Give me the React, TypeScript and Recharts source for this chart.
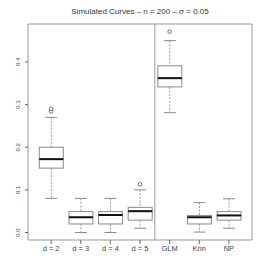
import { ComposedChart, Bar, Line, XAxis, YAxis, ReferenceLine, ReferenceArea } from "recharts";

const categories = ["d = 2", "d = 3", "d = 4", "d = 5", "GLM", "Knn", "NP"];
const mins = [0.08, 0.0, 0.0, 0.01, 0.281, 0.001, 0.01];
const q1s = [0.151, 0.02, 0.02, 0.029, 0.3415, 0.02, 0.029];
const medians = [0.172, 0.0357, 0.041, 0.05, 0.362, 0.0357, 0.04];
const q3s = [0.2, 0.049, 0.049, 0.059, 0.391, 0.04, 0.049];
const maxs = [0.27, 0.08, 0.08, 0.1, 0.45, 0.07, 0.079];
const outliersA = [0.284, null, null, 0.113, 0.471, null, null];
const outliersB = [0.29, null, null, null, null, null, null];
const yTicks = [0, 0.1, 0.2, 0.3, 0.4];
const xTicks = [1, 2, 3, 4, 5, 6, 7];

const Y_DOMAIN: [number, number] = [-0.0176, 0.489];
const X_DOMAIN: [number, number] = [0.22, 7.78];

const rows = categories.map((name, i) => ({
  name,
  pos: i + 1,
  base: mins[i],
  lw: q1s[i] - mins[i],
  lb: medians[i] - q1s[i],
  ub: q3s[i] - medians[i],
  uw: maxs[i] - q3s[i],
  outA: outliersA[i],
  outB: outliersB[i],
}));

const BOX = "#8a8a8a";
const WHISK = "#9a9a9a";
const FONT = "'Liberation Sans', Arial, sans-serif";

const Empty = () => <g />;

const LowerWhisker = (p: any) => {
  const cx = p.x + p.width / 2;
  return (
    <g>
      <line x1={cx} x2={cx} y1={p.y} y2={p.y + p.height} stroke={WHISK} strokeDasharray="2 1.5" />
      <line x1={cx - 6} x2={cx + 6} y1={p.y + p.height} y2={p.y + p.height} stroke={BOX} />
    </g>
  );
};

const UpperWhisker = (p: any) => {
  const cx = p.x + p.width / 2;
  return (
    <g>
      <line x1={cx} x2={cx} y1={p.y} y2={p.y + p.height} stroke={WHISK} strokeDasharray="2 1.5" />
      <line x1={cx - 6} x2={cx + 6} y1={p.y} y2={p.y} stroke={BOX} />
    </g>
  );
};

const LowerBox = (p: any) => (
  <rect x={p.x} y={p.y} width={p.width} height={p.height} fill="#fff" stroke={BOX} />
);

const UpperBox = (p: any) => (
  <g>
    <rect x={p.x} y={p.y} width={p.width} height={p.height} fill="#fff" stroke={BOX} />
    <line x1={p.x} x2={p.x + p.width} y1={p.y + p.height} y2={p.y + p.height} stroke="#111" strokeWidth={2} />
  </g>
);

const OutlierDot = (p: any) =>
  p.value == null ? (
    <g key={p.key} />
  ) : (
    <circle key={p.key} cx={p.cx} cy={p.cy} r={1.8} fill="#fff" stroke="#666" strokeWidth={0.9} />
  );

const YTick = (p: any) => (
  <text
    x={p.x}
    y={p.y}
    transform={`rotate(-90 ${p.x} ${p.y})`}
    textAnchor="middle"
    fontSize={6}
    fill="#444"
    fontFamily={FONT}
  >
    {Number(p.payload.value).toFixed(1)}
  </text>
);

export default function App() {
  return (
    <div style={{ position: "absolute", left: 0, top: 0, width: 266, height: 271, background: "#fff", fontFamily: FONT }}>
      <div
        style={{
          position: "absolute",
          left: 0,
          width: 280,
          top: 7,
          textAlign: "center",
          fontSize: 8,
          color: "#333",
          lineHeight: "10px",
        }}
      >
        Simulated Curves – n = 200 – σ = 0.05
      </div>
      <ComposedChart width={266} height={271} data={rows} margin={{ top: 24, right: 14, bottom: 0, left: 0 }}>
        <XAxis
          dataKey="pos"
          type="number"
          domain={X_DOMAIN}
          allowDataOverflow
          ticks={xTicks}
          tickFormatter={(v) => categories[v - 1]}
          tickSize={4}
          tickLine={{ stroke: "#666" }}
          axisLine={false}
          tick={{ fontSize: 7.5, fill: "#444", fontFamily: FONT }}
          height={31}
          interval={0}
        />
        <YAxis
          type="number"
          domain={Y_DOMAIN}
          allowDataOverflow
          ticks={yTicks}
          width={28}
          tickSize={3}
          tickMargin={4.5}
          tickLine={{ stroke: "#666" }}
          axisLine={false}
          tick={YTick}
        />
        <ReferenceArea
          x1={X_DOMAIN[0]}
          x2={X_DOMAIN[1]}
          y1={Y_DOMAIN[0]}
          y2={Y_DOMAIN[1]}
          fill="none"
          stroke="#999"
          ifOverflow="visible"
        />
        <ReferenceLine x={4.5} stroke="#999" ifOverflow="visible" />
        <Bar dataKey="base" stackId="b" barSize={24} shape={Empty} isAnimationActive={false} />
        <Bar dataKey="lw" stackId="b" barSize={24} shape={LowerWhisker} isAnimationActive={false} />
        <Bar dataKey="lb" stackId="b" barSize={24} shape={LowerBox} isAnimationActive={false} />
        <Bar dataKey="ub" stackId="b" barSize={24} shape={UpperBox} isAnimationActive={false} />
        <Bar dataKey="uw" stackId="b" barSize={24} shape={UpperWhisker} isAnimationActive={false} />
        <Line dataKey="outA" stroke="none" dot={OutlierDot} activeDot={false} isAnimationActive={false} />
        <Line dataKey="outB" stroke="none" dot={OutlierDot} activeDot={false} isAnimationActive={false} />
      </ComposedChart>
    </div>
  );
}
